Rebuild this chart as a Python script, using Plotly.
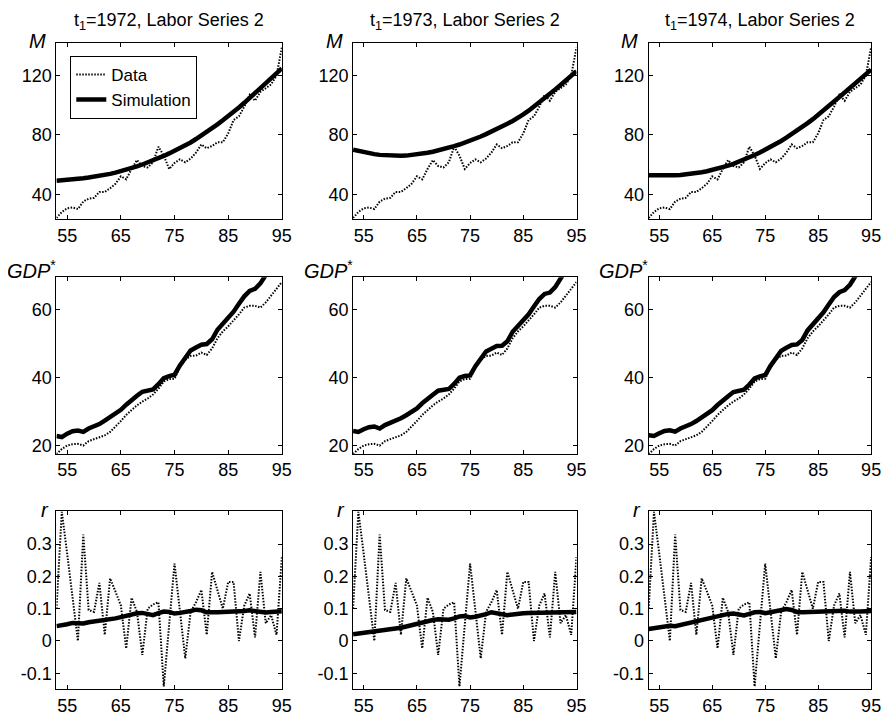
import plotly.graph_objects as go

# ---------------- data ----------------
years = list(range(53, 96))  # 1953..1995 (two-digit axis)

m_data = [24, 28, 30.5, 31, 30, 35, 37, 37.5, 41.5, 41.5,
          44, 47, 52, 50, 57, 63, 59, 58, 61.5, 72,
          66, 57, 61, 63.5, 61.5, 64, 68, 73.5, 71, 72.5,
          75, 75, 81, 90, 92.5, 99, 107, 103, 109, 111.5,
          114, 120, 139]

m_sim_1972 = [49.0, 49.2, 49.5, 49.9, 50.3, 50.7, 51.2, 51.7, 52.3, 53.0,
              53.7, 54.5, 55.4, 56.4, 57.5, 58.7, 60.0, 61.3, 62.7, 64.2,
              65.8, 67.5, 69.2, 71.0, 72.9, 74.9, 77.2, 79.5, 82.0, 84.5,
              87.1, 89.8, 92.5, 95.5, 98.5, 101.6, 104.8, 108.0, 111.3, 114.6,
              118.0, 121.4, 124.8]
m_sim_1973 = [70.0, 69.1, 68.3, 67.6, 67.0, 66.5, 66.2, 66.0, 65.9, 65.9,
              66.0, 66.3, 66.7, 67.2, 67.9, 68.6, 69.4, 70.3, 71.3, 72.4,
              73.5, 74.7, 76.0, 77.4, 78.9, 80.5, 82.1, 83.8, 85.6, 87.5,
              89.4, 91.4, 93.8, 96.3, 99.0, 101.8, 104.7, 107.6, 110.6, 113.6,
              116.7, 119.8, 123.0]
m_sim_1974 = [52.7, 52.6, 52.6, 52.6, 52.7, 52.8, 53.0, 53.3, 53.7, 54.2,
              54.8, 55.5, 56.3, 57.2, 58.2, 59.3, 60.5, 61.8, 63.2, 64.8,
              66.4, 68.1, 69.9, 71.8, 73.8, 75.9, 78.1, 80.4, 82.8, 85.3,
              87.9, 90.6, 93.4, 96.3, 99.3, 102.4, 105.5, 108.6, 111.8, 115.0,
              118.2, 121.4, 124.0]

gdp_data = [17.5, 19.0, 20.0, 20.4, 20.5, 20.0, 21.3, 21.8, 22.3, 23.0,
            24.0, 25.5, 27.2, 29.0, 30.4, 31.8, 32.9, 33.8, 35.0, 36.7,
            38.8, 39.5, 39.6, 43.0, 45.2, 46.3, 46.4, 47.3, 46.6, 48.5,
            51.5, 53.5, 55.0, 56.6, 58.5, 60.5, 61.0, 61.0, 60.5, 62.0,
            64.0, 66.0, 68.0]

gdp_sim_1972 = [22.8, 22.5, 23.5, 24.2, 24.4, 24.0, 25.0, 25.6, 26.3, 27.3,
                28.3, 29.3, 30.5, 32.0, 33.5, 34.6, 35.8, 36.2, 36.5, 38.0,
                39.8, 40.4, 40.8, 43.5, 45.8, 47.9, 48.8, 49.6, 49.8, 51.2,
                54.0, 55.8, 57.4, 59.3, 61.6, 63.8, 65.4, 66.0, 67.6, 70.0,
                72.6, 75.0, 77.4]
gdp_sim_1973 = [24.3, 24.0, 24.8, 25.4, 25.6, 25.0, 26.0, 26.6, 27.1, 28.0,
                28.9, 29.8, 30.9, 32.4, 33.8, 34.9, 36.1, 36.4, 36.6, 38.1,
                39.9, 40.4, 40.6, 43.3, 45.6, 47.6, 48.4, 49.2, 49.3, 50.6,
                53.4, 55.2, 56.6, 58.5, 60.8, 63.0, 64.5, 64.9, 66.5, 69.0,
                71.5, 74.0, 76.5]
gdp_sim_1974 = [23.0, 22.8, 23.6, 24.3, 24.5, 24.1, 25.0, 25.6, 26.3, 27.2,
                28.2, 29.2, 30.4, 31.9, 33.4, 34.5, 35.7, 36.1, 36.4, 37.9,
                39.7, 40.3, 40.7, 43.4, 45.7, 47.8, 48.7, 49.5, 49.7, 51.0,
                53.8, 55.6, 57.2, 59.1, 61.4, 63.6, 65.0, 65.6, 67.2, 69.6,
                72.2, 74.6, 77.0]

r_data = [0.10, 0.40, 0.27, 0.135, 0.0, 0.33, 0.096, 0.09, 0.18, 0.019,
          0.194, 0.153, 0.11, -0.023, 0.134, 0.09, -0.043, 0.10, 0.113, 0.12,
          -0.141, 0.05, 0.24, 0.093, -0.054, 0.09, 0.12, 0.158, 0.019, 0.214,
          0.16, 0.10, 0.183, 0.183, 0.0, 0.11, 0.147, 0.011, 0.214, 0.055,
          0.08, 0.019, 0.26]

r_sim_1972 = [0.046, 0.048, 0.052, 0.056, 0.056, 0.054, 0.058, 0.060, 0.061, 0.064,
              0.067, 0.070, 0.074, 0.079, 0.083, 0.086, 0.087, 0.085, 0.080, 0.086,
              0.091, 0.090, 0.085, 0.087, 0.089, 0.093, 0.097, 0.095, 0.089, 0.088,
              0.089, 0.090, 0.090, 0.091, 0.092, 0.093, 0.095, 0.093, 0.089, 0.088,
              0.090, 0.091, 0.092]
r_sim_1973 = [0.021, 0.023, 0.026, 0.029, 0.030, 0.030, 0.033, 0.036, 0.038, 0.041,
              0.045, 0.049, 0.054, 0.059, 0.062, 0.065, 0.067, 0.066, 0.066, 0.070,
              0.076, 0.077, 0.073, 0.075, 0.078, 0.083, 0.089, 0.087, 0.082, 0.080,
              0.082, 0.085, 0.086, 0.087, 0.087, 0.088, 0.090, 0.089, 0.087, 0.087,
              0.088, 0.089, 0.090]
r_sim_1974 = [0.037, 0.039, 0.042, 0.046, 0.047, 0.046, 0.050, 0.053, 0.056, 0.059,
              0.063, 0.067, 0.072, 0.078, 0.082, 0.084, 0.085, 0.083, 0.079, 0.084,
              0.089, 0.090, 0.086, 0.089, 0.092, 0.096, 0.099, 0.096, 0.090, 0.089,
              0.090, 0.091, 0.091, 0.092, 0.093, 0.094, 0.096, 0.094, 0.091, 0.090,
              0.091, 0.092, 0.093]

t1_years = ["1972", "1973", "1974"]
x_ticks = [55, 65, 75, 85, 95]
m_ticks = [40, 80, 120]
gdp_ticks = [20, 40, 60]
r_ticks = [-0.1, 0, 0.1, 0.2, 0.3]
r_ticktext = ["-0.1", "0", "0.1", "0.2", "0.3"]

rows = [
    dict(data=m_data, sims=[m_sim_1972, m_sim_1973, m_sim_1974],
         yrange=[23, 142], ticks=m_ticks, ticktext=[str(t) for t in m_ticks],
         label="<i>M</i>", label_dx=19, label_dy=-2),
    dict(data=gdp_data, sims=[gdp_sim_1972, gdp_sim_1973, gdp_sim_1974],
         yrange=[17.6, 69.4], ticks=gdp_ticks, ticktext=[str(t) for t in gdp_ticks],
         label="<i>GDP</i><sup>*</sup>", label_dx=25, label_dy=-8),
    dict(data=r_data, sims=[r_sim_1972, r_sim_1973, r_sim_1974],
         yrange=[-0.149, 0.404], ticks=r_ticks, ticktext=r_ticktext,
         label="<i>r</i>", label_dx=12, label_dy=-1),
]

# ---------------- layout geometry (screen pixels) ----------------
OFF = 8                      # page body margin
W, H = 893 - OFF, 717 - OFF  # figure size so that it fills the window
col_px = [(57, 285), (357, 583), (656, 881)]
row_px = [(43, 220), (278, 455), (512, 691)]


def px(xs):
    return (xs - OFF) / W


def py(ys):
    return 1 - (ys - OFF) / H


FONT = "Liberation Sans, Arial, Helvetica, sans-serif"

fig = go.Figure()
layout = dict(
    width=W, height=H, autosize=False,
    margin=dict(l=0, r=0, t=0, b=0),
    paper_bgcolor="white", plot_bgcolor="white",
    font=dict(family=FONT, size=18, color="black"),
    showlegend=True,
    legend=dict(x=px(71), y=py(56), xanchor="left", yanchor="top",
                bordercolor="black", borderwidth=1, bgcolor="white",
                font=dict(size=17, family=FONT), itemwidth=30,
                tracegroupgap=0),
)
annotations = []

for r, row in enumerate(rows):
    for c in range(3):
        n = r * 3 + c + 1
        xa = "xaxis" if n == 1 else f"xaxis{n}"
        ya = "yaxis" if n == 1 else f"yaxis{n}"
        xr = "x" if n == 1 else f"x{n}"
        yr = "y" if n == 1 else f"y{n}"
        x0, x1 = col_px[c]
        top, bot = row_px[r]
        layout[xa] = dict(
            domain=[px(x0), px(x1)], anchor=yr, range=[53, 95],
            tickvals=x_ticks, ticktext=[str(t) for t in x_ticks],
            ticks="inside", ticklen=4, tickwidth=1, tickcolor="black",
            showline=True, linecolor="black", linewidth=1, mirror="ticks",
            showgrid=False, zeroline=False,
            tickfont=dict(size=18, family=FONT, color="black"),
        )
        layout[ya] = dict(
            domain=[py(bot), py(top)], anchor=xr, range=row["yrange"],
            tickvals=row["ticks"], ticktext=row["ticktext"],
            ticks="inside", ticklen=4, tickwidth=1, tickcolor="black",
            showline=True, linecolor="black", linewidth=1, mirror="ticks",
            showgrid=False, zeroline=False,
            tickfont=dict(size=18, family=FONT, color="black"),
        )
        fig.add_trace(go.Scatter(
            x=years, y=row["data"], mode="lines", name="Data",
            line=dict(color="black", width=2, dash="1.5px,1.5px"),
            xaxis=xr, yaxis=yr, showlegend=(n == 1), cliponaxis=True))
        fig.add_trace(go.Scatter(
            x=years, y=row["sims"][c], mode="lines", name="Simulation",
            line=dict(color="black", width=4.5),
            xaxis=xr, yaxis=yr, showlegend=(n == 1), cliponaxis=True))
        annotations.append(dict(
            text=row["label"], x=px(x0 - row["label_dx"]),
            y=py(top + row["label_dy"]),
            xref="paper", yref="paper", xanchor="center", yanchor="middle",
            showarrow=False, font=dict(size=20, family=FONT, color="black")))
        if r == 0:
            annotations.append(dict(
                text=f"t<sub>1</sub>={t1_years[c]}, Labor Series 2",
                x=px((x0 + x1) / 2), y=1.0, xref="paper", yref="paper",
                xanchor="center", yanchor="top", showarrow=False,
                font=dict(size=18, family=FONT, color="black")))

layout["annotations"] = annotations
fig.update_layout(**layout)
fig.write_html("out.html")
